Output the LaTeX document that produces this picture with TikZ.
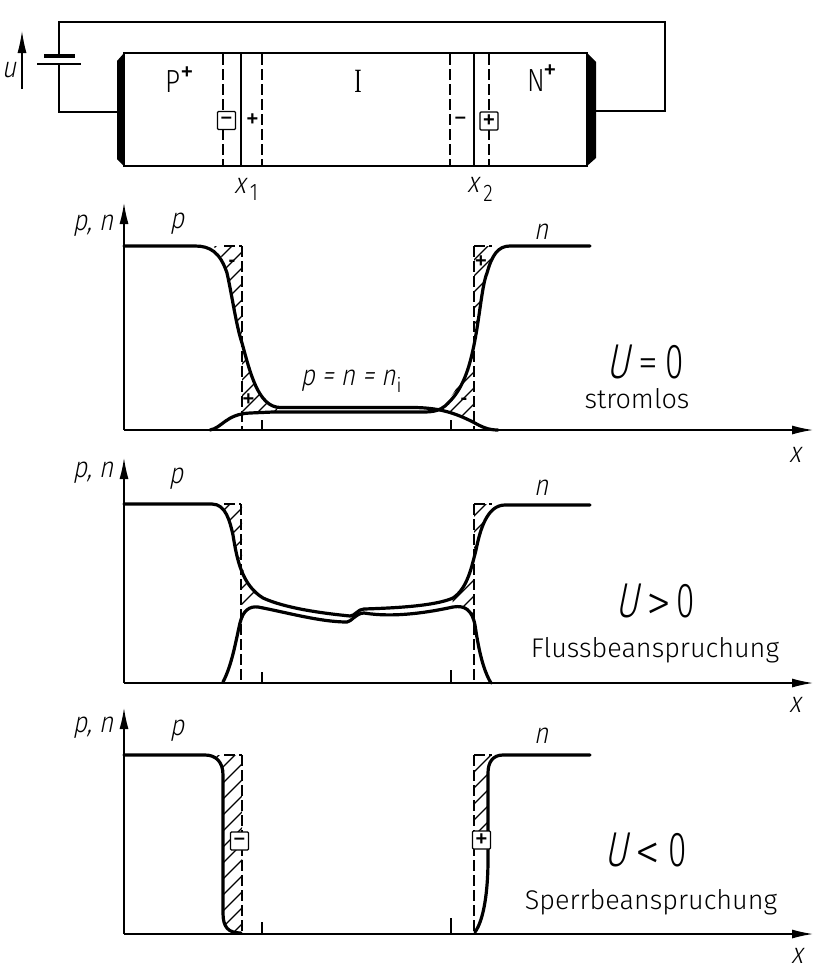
\documentclass[tikz,border=0pt]{standalone}
\usepackage{fontspec}
\setmainfont{Fira Sans Light}
\newfontfamily\uprfont{Fira Sans Light}
\newfontfamily\narrowfont[FakeStretch=0.82]{Fira Sans Light}
\newfontfamily\slantfont[FakeSlant=0.2,FakeStretch=0.85]{Fira Sans Light}
\newfontfamily\bigslant[FakeSlant=0.2,FakeStretch=0.72]{Fira Sans Light}
\newfontfamily\bignarrow[FakeStretch=0.68]{Fira Sans Light}
\newfontfamily\serifI[FakeStretch=0.65]{Liberation Serif}
\newfontfamily\signfont{Liberation Sans}
\usetikzlibrary{arrows.meta}
\newcommand{\hatchlines}{%
  \foreach \k in {-2,...,60}{\draw[hatchline] (150,{200+\k*16}) -- ++(450,-450);}%
}
\tikzset{
  x=1pt,y=-1pt,
  wire/.style={line width=1.3pt,black},
  curve/.style={line width=3.2pt,black,line join=round,line cap=round},
  axisline/.style={line width=1.3pt,black,-{Latex[length=21pt,width=9pt]}},
  dashline/.style={line width=1.3pt,dash pattern=on 11pt off 4pt},
  hatchline/.style={line width=1.1pt},
  tickmark/.style={line width=1.1pt},
  chargebox/.style={draw,line width=1.3pt,fill=white,minimum size=18pt,inner sep=0pt,rounded corners=1pt,font=\fontsize{20}{20}\signfont\bfseries},
  lab/.style={inner sep=0pt,font=\fontsize{32}{32}\narrowfont},
  ital/.style={inner sep=0pt,font=\fontsize{29}{29}\slantfont},
  bigital/.style={inner sep=0pt,font=\fontsize{49}{49}\bigslant},
  bigup/.style={inner sep=0pt,font=\fontsize{49}{49}\bignarrow},
  bigsign/.style={inner sep=0pt,font=\fontsize{40}{40}\uprfont},
  cmpsign/.style={inner sep=0pt,font=\fontsize{50}{50}\uprfont},
  word/.style={inner sep=0pt,font=\fontsize{27}{27}\uprfont},
  sign/.style={inner sep=0pt,font=\fontsize{20}{20}\signfont\bfseries},
  sub/.style={inner sep=0pt,font=\fontsize{24}{24}\narrowfont},
}
\begin{document}
\begin{tikzpicture}
\useasboundingbox (0,0) rectangle (815,970);
% circuit
\coordinate (bt) at (59,55.5);
\coordinate (bb) at (59,64);
\coordinate (tr) at (665,22);
\coordinate (tl) at (59,22);
\coordinate (br) at (665,111);
\coordinate (cl) at (117,112);
\coordinate (cr) at (596,111);
\draw[wire] (bt) -- (tl) -- (tr) -- (br) -- (cr);
\draw[wire] (bb) -- (59,112) -- (cl);
\draw[line width=3.6pt] (44,56) -- (75,56);
\draw[line width=1.8pt] (37,64) -- (81,64);
\draw[line width=1.2pt,-{Latex[length=22pt,width=9pt]}] (22,89) -- (22,31);
\node[ital] (u) at (9,70) {u};
\draw[wire] (124,53) rectangle (587,166);
\fill (124,53) -- (117,61) -- (117,159) -- (124,166) -- cycle;
\fill (587,53) -- (596,62) -- (596,158) -- (587,166) -- cycle;
\draw[dashline] (223,54) -- (223,166) (262,54) -- (262,166) (450,54) -- (450,166) (489,54) -- (489,166);
\draw[wire] (241,53) -- (241,166) (474,53) -- (474,166);
\node[chargebox] (m1) at (226.5,120.5) {–};
\node[chargebox] (p1) at (489,121) {+};
\node[sign] (pl1) at (252.5,120) {+};
\node[sign] (mi1) at (460.5,120) {–};
\node[lab] (P) at (172.5,82) {P};
\node[sign] (Pp) at (187,73) {+};
\node[lab,font=\fontsize{34}{34}\serifI] (I) at (358,81) {I};
\node[lab] (N) at (536,81) {N};
\node[sign] (Np) at (550,71) {+};
\node[ital] (x1) at (240,186) {x};
\node[sub] (s1) at (254,193) {1};
\node[ital] (x2) at (473,185) {x};
\node[sub] (s2) at (488,193) {2};

% plot 1
\begin{scope}
\clip (210,246) .. controls (218,246) and (223,258) .. (227,273) .. controls (231,290) and (236,325) .. (242,343) -- (242,246) -- cycle;
\hatchlines
\end{scope}
\begin{scope}
\clip (242,343) .. controls (250,372) and (258,400) .. (277,407.5) -- (277,412) -- (242,414) -- cycle;
\hatchlines
\end{scope}
\begin{scope}
\clip (505,246) .. controls (493,246) and (490,258) .. (486,275) .. controls (482,300) and (478,335) .. (474,343) -- (474,246) -- cycle;
\hatchlines
\end{scope}
\begin{scope}
\clip (474,343) .. controls (466,380) and (450,400) .. (438,410) .. controls (450,412) and (462,417) .. (474,423) -- cycle;
\hatchlines
\end{scope}
\draw[dashline] (242,246) -- (242,430) (474,246) -- (474,430);
\draw[dashline] (224,246) -- (242,246) (474,246) -- (492,246);
\draw[tickmark] (262,420) -- (262,430) (451,420) -- (451,430);
\draw[axisline] (124,430) -- (124,203);
\draw[axisline] (124,430) -- (813,430);
\draw[curve] (124,246) -- (195,246) .. controls (210,246) and (220,252) .. (227,273) .. controls (232,295) and (236,325) .. (242,343) .. controls (250,372) and (258,407) .. (280,407.5) -- (415,407.5) .. controls (440,408) and (455,413) .. (473,422) .. controls (482,427) and (488,430) .. (498,430);
\draw[curve] (210,430) .. controls (222,428) and (226,414) .. (250,413) -- (273,412) -- (423,412) .. controls (435,412) and (440,410) .. (445,406) .. controls (460,393) and (468,375) .. (474,345) .. controls (480,315) and (482,285) .. (487,273) .. controls (492,255) and (498,246) .. (510,246) -- (590,246);
\node[sign] at (232,263) {-};
\node[sign] at (481,262) {+};
\node[sign] at (248.5,400) {+};
\node[sign] at (464,401) {-};
\node[ital] (pn1) at (93,226) {p, n};
\node[ital] (p1l) at (177,224) {p};
\node[ital] (n1l) at (541,232) {n};
\node[ital] (eq) at (348,381) {p = n = n};
\node[inner sep=0pt,font=\fontsize{20}{20}\uprfont] (eqi) at (399,385) {i};
\node[bigital,anchor=base] (U1) at (618,378) {U};
\node[bigsign,anchor=base] (E1) at (648,376) {=};
\node[bigup,anchor=base] (Z1) at (675,378) {0};
\node[word] (st) at (637,399) {stromlos};
\node[ital] (x1l) at (795,455) {x};

% plot 2
\begin{scope}
\clip (213,504) .. controls (225,504) and (230,520) .. (233,533) .. controls (235,545) and (238,555) .. (240,560) -- (242,560) -- (242,504) -- cycle;
\hatchlines
\end{scope}
\begin{scope}
\clip (242,565) .. controls (246,583) and (254,592) .. (263,598) -- (248,610) -- (242,620) -- cycle;
\hatchlines
\end{scope}
\begin{scope}
\clip (474,504) -- (500,504) .. controls (490,506) and (484,520) .. (480,535) .. controls (478,545) and (476,552) .. (474,560) -- cycle;
\hatchlines
\end{scope}
\begin{scope}
\clip (474,565) .. controls (470,580) and (462,592) .. (453,598) -- (452,607) -- (463,607) -- (474,616) -- cycle;
\hatchlines
\end{scope}
\draw[dashline] (241,504) -- (241,683) (474,504) -- (474,683);
\draw[dashline] (224,504) -- (241,504) (474,504) -- (492,504);
\draw[tickmark] (262,672) -- (262,683) (451,670) -- (451,683);
\draw[axisline] (124,683) -- (124,458);
\draw[axisline] (124,683) -- (813,683);
\draw[curve] (124,504) -- (212,504) .. controls (226,504) and (230,522) .. (233,535) .. controls (237,560) and (242,585) .. (263,598) .. controls (285,608) and (320,613) .. (350,616) .. controls (355,616) and (358,609) .. (364,609) .. controls (395,608) and (435,606) .. (453,598) .. controls (468,588) and (472,565) .. (476,550) .. controls (480,530) and (487,505) .. (505,505) -- (590,505);
\draw[curve] (223,682) .. controls (232,665) and (236,640) .. (240,623) .. controls (243,610) and (250,606) .. (258,607) .. controls (285,612) and (320,622) .. (347,622) .. controls (351,622) and (356,613) .. (364,613) .. controls (395,618) and (430,612) .. (453,607) .. controls (465,605) and (472,610) .. (475,625) .. controls (478,645) and (482,668) .. (491,683);
\node[ital] (pn2) at (93,473) {p, n};
\node[ital] (p2l) at (176,479) {p};
\node[ital] (n2l) at (541,488) {n};
\node[bigital,anchor=base] (U2) at (627,617) {U};
\node[cmpsign,anchor=base] (G2) at (659,620) {>};
\node[bigup,anchor=base] (Z2) at (686,617) {0};
\node[word] (fl) at (655,650) {Flussbeanspruchung};
\node[ital] (x2l) at (795,705) {x};

% plot 3
\begin{scope}
\clip (215,755) -- (242,755) -- (242,933) -- (232,933) .. controls (225,932) and (223,925) .. (223,913) -- (223,773) .. controls (223,765) and (220,760) .. (215,755);
\hatchlines
\end{scope}
\begin{scope}
\clip (474,755) -- (496,755) .. controls (490,757) and (488,765) .. (488,773) -- (488,860) .. controls (487,900) and (482,925) .. (475,933) -- (474,933) -- cycle;
\hatchlines
\end{scope}
\draw[dashline] (242,755) -- (242,934) (474,755) -- (474,934);
\draw[dashline] (224,755) -- (242,755) (474,755) -- (492,755);
\draw[tickmark] (262,922) -- (262,934) (451,918) -- (451,934);
\draw[axisline] (124,934) -- (124,708);
\draw[axisline] (124,934) -- (813,934);
\draw[curve] (124,755) -- (205,755) .. controls (216,755) and (223,762) .. (223,775) -- (223,913) .. controls (223,927) and (228,933) .. (241,933);
\draw[curve] (475,932) .. controls (484,920) and (488,890) .. (488,860) -- (488,773) .. controls (488,762) and (493,755) .. (503,755) -- (590,755);
\node[chargebox] (m3) at (239.5,841) {–};
\node[chargebox] (p3) at (481.5,840) {+};
\node[ital] (pn3) at (93,728) {p, n};
\node[ital] (p3l) at (177,731) {p};
\node[ital] (n3l) at (541,736) {n};
\node[bigital,anchor=base] (U3) at (616,866) {U};
\node[cmpsign,anchor=base] (L3) at (648,869) {<};
\node[bigup,anchor=base] (Z3) at (678,866) {0};
\node[word] (sp) at (651,902) {Sperrbeanspruchung};
\node[ital] (x3l) at (797,956) {x};
\end{tikzpicture}
\end{document}
